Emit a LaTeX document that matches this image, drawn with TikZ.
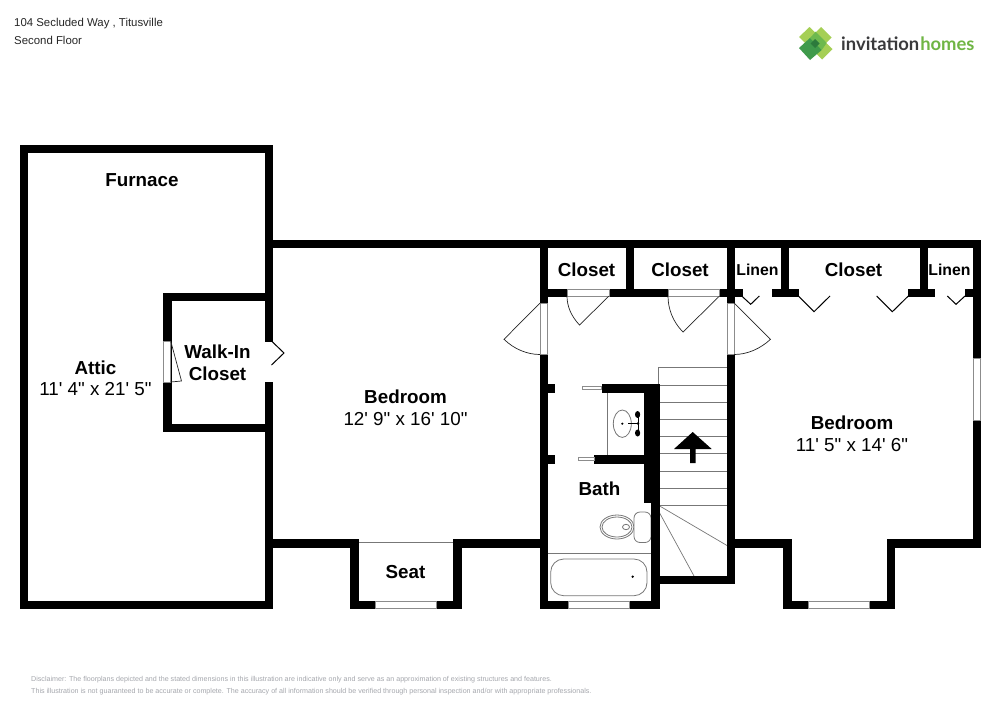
\documentclass[tikz,border=0pt]{standalone}
\usepackage{fontspec}
\setmainfont{Liberation Sans}
\newfontfamily\plainf{Liberation Sans}
\newfontfamily\logof{Lato}
\definecolor{wingray}{HTML}{8C8C8C}
\definecolor{fixgray}{HTML}{777777}
\definecolor{discl}{HTML}{A4A6AC}
\definecolor{lime}{HTML}{A5CF55}
\definecolor{midgreen}{HTML}{6DB94E}
\definecolor{deepgreen}{HTML}{3F9A4B}
\definecolor{darkgreen}{HTML}{2C7A3C}
\definecolor{logotext}{HTML}{3A3A3C}
\definecolor{logogreen}{HTML}{6FB544}
\tikzset{
  x=1pt,y=-1pt,
  wallfill/.style={fill=black,draw=black,line width=0.4pt},
  opening/.style={fill=white,draw=wingray,line width=0.9pt},
  swing/.style={draw=black!85,line width=0.7pt},
  chevron/.style={draw=black,line width=1pt},
  fixture/.style={draw=fixgray,line width=0.8pt},
  tread/.style={draw=fixgray,line width=0.9pt},
  room/.style={font=\plainf\fontsize{18.8}{21.5}\selectfont,align=center,inner sep=0pt,text=black},
  small/.style={font=\plainf\bfseries\fontsize{15.8}{18}\selectfont,inner sep=0pt},
  head/.style={font=\plainf\fontsize{11.4}{13}\selectfont,anchor=base west,inner sep=0pt,text=black!85},
  disc/.style={font=\plainf\fontsize{7.12}{8}\selectfont,anchor=base west,inner sep=0pt,text=discl},
}
\begin{document}
\begin{tikzpicture}
\useasboundingbox (0,0) rectangle (1000,707);
% stairs
\foreach \y in {385,402,419.5,436.5,453.5,471,488,505}{\draw[tread] (658,\y) -- (727,\y);}
\draw[tread] (658,385) -- (658,367.5) -- (727,367.5);
\draw[tread,line width=0.7pt] (658,505) -- (727,545.5);
\draw[tread,line width=0.7pt] (658,510) -- (694,576);
% fixtures
\draw[tread] (607,392) -- (607,455);
\draw[tread] (547,553) -- (651,553);
\draw[fixture] (357,542.7) -- (453,542.7);
\draw[fixture,rounded corners=13pt] (550.7,559) rectangle (647,595.7);
\fill (632.7,576.7) circle (1.3);
\draw[fixture] (622.3,423.7) ellipse [x radius=9,y radius=13.7];
\fill (622.3,423.7) circle (1.2);
\draw[black,line width=1pt] (628,423.5) -- (638,423.5) (638,413) -- (638,434);
\fill (637.6,414.5) ellipse [x radius=2.6,y radius=3.5];
\fill (637.6,433) ellipse [x radius=2.6,y radius=3.5];
\fill (638,423.5) circle (1.4);
\draw[fixture] (617,527) ellipse [x radius=17,y radius=12];
\draw[fixture] (617,527) ellipse [x radius=15,y radius=10];
\draw[fixture,fill=white] (626,527) ellipse [x radius=3.5,y radius=2.7];
\draw[fixture,fill=white,rounded corners=6pt] (634,512) rectangle (651,542.5);
% walls
\foreach \a/\b/\c/\d in {
  20/145/272/152, 20/145/27/608, 20/601/272/608,
  265/145/272/341, 265/382/272/608,
  163.5/293/265/300, 163.5/424/265/431, 163.5/293/170.7/431,
  265/240/980/247,
  540/240/547/608,
  540/384/554/392, 540/455/554/463,
  547/289/734/296, 625.7/247/632.7/289,
  727/240/734/583,
  658/576/734/583,
  734/289/741.7/296,
  772/289/798.3/296, 781/247/788/289,
  908.3/289/934/296, 920/247/927/289,
  965/289/980/296, 973/240/980/546.7,
  886.7/539.5/980/546.7, 886.7/539.5/894/608,
  783.3/601/894/608, 783.3/539.5/791/608,
  727/539.5/791/546.7,
  272/539.5/357.7/546.7, 453/539.5/547/546.7,
  350/539.5/357.7/608, 453/539.5/460.7/608, 350/601/460.7/608,
  540/601/658.7/608, 651/384/658.7/608, 644/384/658.7/502,
  601.7/384/644/392, 594/455/644/463}
  {\path[wallfill] (\a,\b) rectangle (\c,\d);}
% openings
\draw[opening] (163.5,341) rectangle (170.7,382);
\draw[opening] (567,289) rectangle (609,296);
\draw[opening] (668,289) rectangle (719.5,296);
\draw[opening] (540,303) rectangle (547,354.5);
\draw[opening] (727,303) rectangle (734,354.5);
\draw[opening] (973,358) rectangle (980,420);
\draw[opening] (375,601) rectangle (436,608);
\draw[opening] (568,601) rectangle (629,608);
\draw[opening] (808,601) rectangle (869,608);
\draw[opening,line width=0.7pt] (582,386.7) rectangle (601.7,389.7);
\draw[opening,line width=0.7pt] (578,457.7) rectangle (594,460.7);
\draw[swing] (170.7,341) -- (181.5,381) -- (170.7,382);
\draw[chevron] (271.5,341) -- (284,353) -- (271.5,365);
% door swings
\draw[swing] (609,296) -- (579.5,325) .. controls (571,316) and (567,306) .. (567,296);
\draw[swing] (719.5,296) -- (683,332) .. controls (673,322) and (668,309) .. (668,296);
\draw[swing] (734,303) -- (770.5,339.3) .. controls (760,349) and (747,354.5) .. (734,354.5);
\draw[swing] (540,303) -- (504,339.3) .. controls (514,349) and (527,354.5) .. (540,354.5);
% chevron doors
\draw[chevron] (741.7,296) -- (750.7,304.3) -- (759.3,296);
\draw[chevron] (798.3,296) -- (814,311.7) -- (830,296);
\draw[chevron] (876.7,296) -- (892.3,311.7) -- (908.3,296);
\draw[chevron] (947.3,296) -- (956,304.3) -- (965,296);
% stair arrow
\fill (692.7,432) -- (711.7,449) -- (695.7,449) -- (695.7,463) -- (690,463) -- (690,449) -- (674,449) -- cycle;
% labels
\node[room] (furnace) at (142,180) {\textbf{Furnace}};
\node[room] (attic) at (95.5,378.5) {\textbf{Attic}\\11' 4" x 21' 5"};
\node[room] (walkin) at (217.5,363) {\textbf{Walk-In}\\\textbf{Closet}};
\node[room] (bedrooma) at (405.5,408) {\textbf{Bedroom}\\12' 9" x 16' 10"};
\node[room] (bedroomb) at (852,434) {\textbf{Bedroom}\\11' 5" x 14' 6"};
\node[room] (closeta) at (586.5,269.5) {\textbf{Closet}};
\node[room] (closetb) at (680,269.5) {\textbf{Closet}};
\node[room] (closetc) at (853.5,269.5) {\textbf{Closet}};
\node[small] (linena) at (757.5,269.5) {Linen};
\node[small] (linenb) at (949.5,269.5) {Linen};
\node[room] (bath) at (599.5,488.5) {\textbf{Bath}};
\node[room] (seat) at (405.5,572) {\textbf{Seat}};
\node[head] (addr) at (14,26) {104 Secluded Way , Titusville};
\node[head] (floor) at (14,44) {Second Floor};
\node[disc] (disca) at (31,681) {Disclaimer: The floorplans depicted and the stated dimensions in this illustration are indicative only and serve as an approximation of existing structures and features.};
\node[disc] (discb) at (31,693) {This illustration is not guaranteed to be accurate or complete. The accuracy of all information should be verified through personal inspection and/or with appropriate professionals.};
% logo
\fill[lime] (809.5,27) -- (820,37) -- (809.5,47.5) -- (799,37) -- cycle;
\fill[lime] (821,27) -- (831.5,37.5) -- (821,48) -- (810.5,37.5) -- cycle;
\fill[lime] (822,39) -- (832.5,49) -- (822,59.5) -- (811.5,49) -- cycle;
\fill[midgreen] (815.7,31.7) -- (826.7,43) -- (821.7,50) -- (810,38) -- cycle;
\fill[deepgreen] (810,38) -- (821.7,50) -- (810,60) -- (799,48) -- cycle;
\fill[darkgreen] (815,39) -- (819.5,43.5) -- (815,48) -- (810.5,43.5) -- cycle;
\node[font=\logof\bfseries\fontsize{18.4}{21}\selectfont,anchor=base west,inner sep=0pt] (logo) at (841,50) {\textcolor{logotext}{invitation}\kern1pt\textcolor{logogreen}{homes}};
\end{tikzpicture}
\end{document}
